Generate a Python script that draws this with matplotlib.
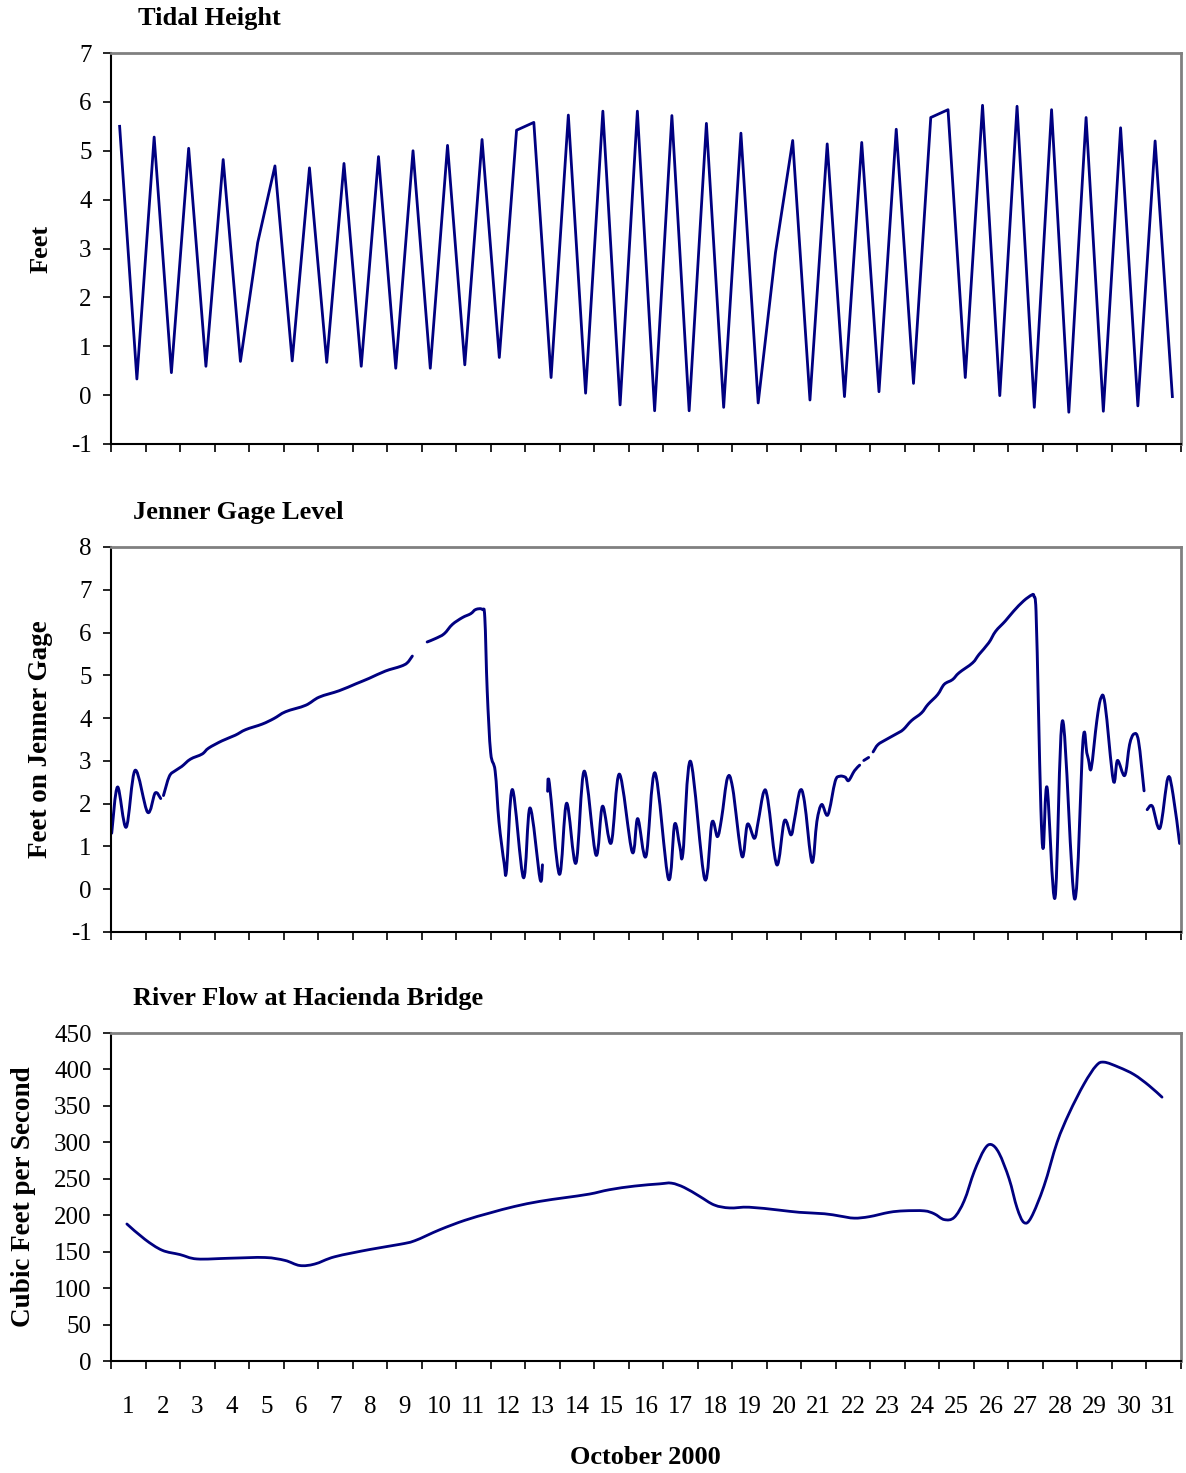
import numpy as np
import matplotlib
matplotlib.use('Agg')
import matplotlib.pyplot as plt
from matplotlib.path import Path
from matplotlib.patches import PathPatch

plt.rcParams['font.family'] = ['Liberation Serif', 'DejaVu Serif']
plt.rcParams['axes.unicode_minus'] = False

nan = np.nan

# tidal height, one reading every half day starting at day 0.25
tide_t = [0.25 + 0.5 * k for k in range(62)]
tide_ft = [5.50, 0.33, 5.28, 0.46, 5.05, 0.59, 4.82, 0.69, 3.12, 4.69,
           0.70, 4.65, 0.67, 4.74, 0.59, 4.88, 0.55, 5.00, 0.55, 5.11,
           0.62, 5.23, 0.77, 5.42, 5.58, 0.36, 5.73, 0.04, 5.81, -0.20,
           5.81, -0.32, 5.72, -0.32, 5.56, -0.25, 5.36, -0.16, 2.91, 5.21,
           -0.10, 5.14, -0.03, 5.17, 0.07, 5.44, 0.24, 5.68, 5.84, 0.36,
           5.93, -0.01, 5.91, -0.25, 5.84, -0.35, 5.68, -0.33, 5.47, -0.22,
           5.20, -0.03]

# Jenner gage level (nan = missing record)
gage_t = [0.02, 0.19, 0.44, 0.70, 1.06, 1.28, 1.44, nan,
          1.52, 1.69, 1.86, 2.05, 2.30, 2.64, 2.83, 3.22, 3.60, 3.90, 4.38,
          4.72, 5.06, 5.64, 6.03, 6.61, 7.09, 7.48, 7.95, 8.39, 8.58, 8.73, nan,
          9.16, 9.40, 9.65, 9.89, 10.18, 10.42, 10.57, 10.76, 10.83, 10.90,
          11.00, 11.13, 11.24, 11.39, 11.46, 11.63, 11.95, 12.14, 12.43, 12.50, nan,
          12.65, 12.70, 12.99, 13.20, 13.47, 13.71, 14.05, 14.24, 14.49, 14.73,
          15.10, 15.26, 15.50, 15.76, 16.15, 16.33, 16.48, 16.57, 16.79, 17.20,
          17.41, 17.57, 17.69, 17.86, 18.01, 18.28, 18.44, 18.64, 18.75, 18.91,
          19.03, 19.29, 19.51, 19.70, 19.80, 19.96, 20.09, 20.31, 20.45, 20.59,
          20.77, 20.98, 21.11, 21.27, 21.37, 21.54, 21.69, nan,
          21.81, 21.95, nan,
          22.08, 22.22, 22.46, 22.75, 22.95, 23.19, 23.48, 23.67, 23.95, 24.14,
          24.38, 24.57, 24.96, 25.15, 25.43, 25.63, 25.91, 26.15, 26.44, 26.68,
          26.74, 26.80, 26.87, 26.94, 27.01, 27.12, 27.35, 27.57, 27.92, 28.16,
          28.27, 28.32, 28.40, 28.56, 28.68, 28.80, 29.04, 29.16, 29.37, 29.51,
          29.64, 29.77, 29.93, nan,
          30.02, 30.17, 30.39, 30.62, 30.77, 30.96]
gage_ft = [1.31, 2.39, 1.45, 2.78, 1.80, 2.25, 2.12, nan,
           2.19, 2.64, 2.77, 2.87, 3.04, 3.16, 3.30, 3.47, 3.60, 3.73, 3.86,
           3.99, 4.15, 4.30, 4.49, 4.64, 4.80, 4.93, 5.10, 5.21, 5.29, 5.45, nan,
           5.78, 5.86, 5.97, 6.19, 6.35, 6.44, 6.54, 6.54, 6.35, 4.63,
           3.19, 2.76, 1.58, 0.61, 0.45, 2.33, 0.27, 1.90, 0.24, 0.57, nan,
           2.29, 2.48, 0.35, 2.01, 0.61, 2.76, 0.80, 1.94, 1.08, 2.69,
           0.87, 1.65, 0.77, 2.72, 0.24, 1.52, 1.00, 0.84, 2.99, 0.24,
           1.56, 1.23, 1.66, 2.60, 2.37, 0.77, 1.52, 1.19, 1.58, 2.27,
           2.09, 0.57, 1.60, 1.27, 1.62, 2.30, 2.05, 0.63, 1.58, 1.98,
           1.74, 2.52, 2.64, 2.62, 2.54, 2.77, 2.90, nan,
           3.01, 3.08, nan,
           3.21, 3.38, 3.50, 3.63, 3.73, 3.94, 4.12, 4.32, 4.55, 4.79,
           4.90, 5.06, 5.29, 5.49, 5.76, 6.03, 6.27, 6.50, 6.74, 6.88,
           6.85, 6.50, 4.24, 1.90, 0.96, 2.38, -0.20, 3.94, -0.23, 3.47,
           3.19, 3.03, 2.83, 3.93, 4.47, 4.32, 2.54, 3.01, 2.66, 3.38,
           3.63, 3.46, 2.30, nan,
           1.86, 1.94, 1.43, 2.60, 2.21, 1.07]

# river flow at Hacienda Bridge
flow_t = [0.46, 0.98, 1.48, 2.00, 2.49, 3.44, 4.46, 5.04, 5.47, 5.90,
          6.48, 7.50, 8.36, 8.80, 9.52, 10.25, 10.97, 11.69, 12.42, 13.14,
          13.86, 14.44, 15.17, 15.89, 16.24, 16.61, 17.05, 17.48, 17.92, 18.49,
          19.36, 19.94, 20.67, 21.10, 21.53, 21.97, 22.55, 22.98, 23.56, 23.85,
          24.14, 24.43, 24.72, 25.01, 25.30, 25.50, 25.73, 26.02, 26.25, 26.45,
          26.66, 27.03, 27.41, 27.76, 28.19, 28.54, 28.77, 29.20, 29.64, 30.07,
          30.45]
flow_cfs = [188, 167, 152, 146, 140, 141, 142, 138, 131, 133,
            143, 153, 160, 165, 180, 193, 203, 212, 219, 224,
            229, 235, 240, 243, 244, 238, 226, 214, 210, 211,
            207, 204, 202, 199, 196, 198, 204, 206, 206, 202,
            194, 197, 220, 260, 290, 297, 285, 250, 210, 190,
            197, 240, 300, 340, 380, 405, 410, 403, 393, 378,
            362]

days = list(range(1, 32))

line_color = '#000080'
W, H = 1186, 1473
fig = plt.figure(figsize=(W / 100, H / 100), dpi=100)


def smooth_line(ax, xs, ys, **kw):
    # Excel style smoothed line: bezier through each point, split at gaps
    xs = np.asarray(xs, float)
    ys = np.asarray(ys, float)
    bad = np.isnan(xs) | np.isnan(ys)
    idx = np.where(bad)[0]
    starts = np.r_[0, idx + 1]
    ends = np.r_[idx, len(xs)]
    for a, b in zip(starts, ends):
        p = np.column_stack([xs[a:b], ys[a:b]])
        if len(p) < 2:
            continue
        verts = [p[0]]
        codes = [Path.MOVETO]
        for i in range(len(p) - 1):
            p0 = p[i - 1] if i > 0 else p[i]
            p3 = p[i + 2] if i + 2 < len(p) else p[i + 1]
            c1 = p[i] + (p[i + 1] - p0) / 6
            c2 = p[i + 1] - (p3 - p[i]) / 6
            verts += [c1, c2, p[i + 1]]
            codes += [Path.CURVE4] * 3
        ax.add_patch(PathPatch(Path(verts, codes), fill=False, **kw))


def make_axes(top, bottom):
    ax = fig.add_axes([111 / W, 1 - bottom / H, 1070 / W, (bottom - top) / H])
    ax.set_xlim(0, 31)
    ax.set_xticks(range(32))
    ax.set_xticklabels([])
    for s in ['left', 'bottom']:
        ax.spines[s].set_color('black')
        ax.spines[s].set_linewidth(1.5)
    for s in ['top', 'right']:
        ax.spines[s].set_color('#808080')
        ax.spines[s].set_linewidth(2)
    ax.tick_params(axis='x', direction='out', length=6, width=1.2, colors='black')
    ax.tick_params(axis='y', direction='out', length=6, width=1.2, labelsize=18, pad=8)
    return ax


ax1 = make_axes(53, 444)
ax1.plot(tide_t, tide_ft, color=line_color, lw=2.0)
ax1.set_ylim(-1, 7)
ax1.set_yticks(range(-1, 8))
ax1.set_ylabel('Feet', fontsize=19, fontweight='bold')
ax1.yaxis.set_label_coords(-0.055, 0.5)
fig.text(138 / W, 1 - 19 / H, 'Tidal Height', fontsize=19, fontweight='bold', va='center')

ax2 = make_axes(547, 932)
smooth_line(ax2, gage_t, gage_ft, edgecolor=line_color, lw=2.1, joinstyle='round', capstyle='round')
ax2.set_ylim(-1, 8)
ax2.set_yticks(range(-1, 9))
ax2.set_ylabel('Feet on Jenner Gage', fontsize=19.5, fontweight='bold')
ax2.yaxis.set_label_coords(-0.054, 0.5)
fig.text(133 / W, 1 - 513 / H, 'Jenner Gage Level', fontsize=19, fontweight='bold', va='center')

ax3 = make_axes(1033, 1361)
smooth_line(ax3, flow_t, flow_cfs, edgecolor=line_color, lw=2.0, joinstyle='round', capstyle='round')
ax3.set_ylim(0, 450)
ax3.set_yticks(range(0, 451, 50))
ax3.set_xticks([d - 0.5 for d in days], minor=True)
ax3.set_xticklabels([str(d) for d in days], minor=True)
ax3.tick_params(axis='x', which='minor', length=0, labelsize=18, pad=25)
ax3.set_ylabel('Cubic Feet per Second', fontsize=19.5, fontweight='bold')
ax3.yaxis.set_label_coords(-0.070, 0.5)
fig.text(133 / W, 1 - 998 / H, 'River Flow at Hacienda Bridge', fontsize=19, fontweight='bold', va='center')

fig.text(645 / W, 1 - 1458 / H, 'October 2000', fontsize=19, fontweight='bold', ha='center', va='center')

fig.savefig('out.png', dpi=100)
